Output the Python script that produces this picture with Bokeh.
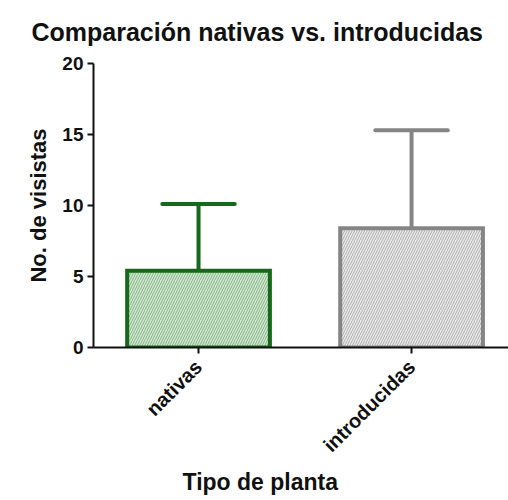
import math
from bokeh.plotting import figure
from bokeh.models import Range1d, FixedTicker, Title, ColumnDataSource
from bokeh.embed import file_html
from bokeh.resources import INLINE

categories = ["nativas", "introducidas"]
means = [5.4, 8.4]
sds = [4.7, 6.9]
y_ticks = [0, 5, 10, 15, 20]

x = list(range(len(categories)))
upper = [m + s for m, s in zip(means, sds)]
cap_half = 0.17
src = ColumnDataSource(dict(
    x=x, mean=means, upper=upper,
    cl=[v - cap_half for v in x], cr=[v + cap_half for v in x],
    line=["#16691a", "#858585"],
    fill=["#d2e6d2", "#e9e9e9"],
    hatch=["#84b684", "#b0b0b0"],
))

FONT = "Liberation Sans"

p = figure(width=508, height=500, output_backend="svg", toolbar_location=None,
           x_range=Range1d(-0.493, 1.455), y_range=Range1d(0, 20),
           min_border_left=93, min_border_right=0, min_border_top=63,
           min_border_bottom=153)

p.add_layout(Title(text="Comparación nativas vs. introducidas", align="left",
                   vertical_align="top", offset=-62, standoff=32,
                   text_font=FONT, text_font_size="25px",
                   text_font_style="bold", text_color="#111111"), "above")

p.segment(x0="x", y0="mean", x1="x", y1="upper", source=src,
          line_color="line", line_width=4)
p.segment(x0="cl", y0="upper", x1="cr", y1="upper", source=src,
          line_color="line", line_width=4, line_cap="round")
p.vbar(x="x", top="mean", bottom=0, width=0.67, source=src,
       fill_color="fill", line_color="line", line_width=4, line_join="miter",
       hatch_pattern="/", hatch_color="hatch", hatch_scale=5, hatch_weight=1)

p.xgrid.visible = False
p.ygrid.visible = False
p.outline_line_color = None

for ax in (p.xaxis[0], p.yaxis[0]):
    ax.axis_line_width = 2
    ax.axis_line_color = "#111111"
    ax.major_tick_line_width = 2
    ax.major_tick_line_color = "#111111"
    ax.major_tick_in = 0
    ax.major_tick_out = 6
    ax.minor_tick_line_color = None
    ax.major_label_text_font = FONT
    ax.major_label_text_font_style = "bold"
    ax.major_label_text_color = "#111111"
    ax.axis_label_text_font = FONT
    ax.axis_label_text_font_style = "bold"
    ax.axis_label_text_color = "#111111"

p.yaxis.ticker = FixedTicker(ticks=y_ticks)
p.yaxis.major_label_text_font_size = "19px"
p.yaxis.major_label_standoff = 4
p.yaxis.axis_label = "No. de visistas"
p.yaxis.axis_label_text_font_size = "22px"
p.yaxis.axis_label_standoff = 8

p.xaxis.ticker = FixedTicker(ticks=x)
p.xaxis.major_label_overrides = {i: c for i, c in enumerate(categories)}
p.xaxis.major_label_orientation = math.pi / 4
p.xaxis.major_label_text_font_size = "20px"
p.xaxis.major_label_standoff = 10

p.add_layout(Title(text="Tipo de planta", align="left", offset=89, standoff=0,
                   text_font=FONT, text_font_size="23px", text_font_style="bold",
                   text_color="#111111"), "below")

open("out.html", "w").write(file_html(p, INLINE))
